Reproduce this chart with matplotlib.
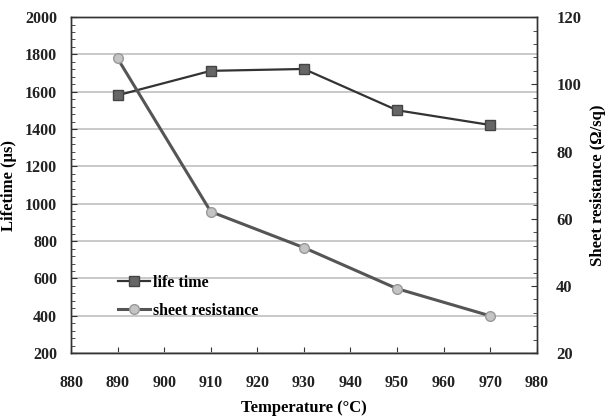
import matplotlib
matplotlib.use('Agg')
import matplotlib.pyplot as plt
from matplotlib.ticker import MultipleLocator

temps = [890, 910, 930, 950, 970]
lifetime = [1581, 1712, 1722, 1501, 1422]
sheet_res = [107.7, 62.1, 51.4, 39.2, 31.1]

plt.rcParams['font.family'] = ['Liberation Serif', 'DejaVu Serif']
plt.rcParams['font.weight'] = 'bold'

fig = plt.figure(figsize=(6.1, 4.16), dpi=100)
ax = fig.add_axes([0.1164, 0.151, 0.7636, 0.808])
ax2 = ax.twinx()

ax.set_xlim(880, 980)
ax.set_ylim(200, 2000)
ax2.set_ylim(20, 120)
ax.xaxis.set_major_locator(MultipleLocator(10))
ax.yaxis.set_major_locator(MultipleLocator(200))
ax.yaxis.set_minor_locator(MultipleLocator(40))
ax2.yaxis.set_major_locator(MultipleLocator(20))
ax2.yaxis.set_minor_locator(MultipleLocator(4))

ax.grid(axis='y', color='#c0c0c0', lw=1.2)
ax.set_axisbelow(True)

l1, = ax.plot(temps, lifetime, color='#333333', lw=1.6, marker='s', ms=7,
              mfc='#666666', mec='#444444', label='life time', zorder=3)
l2, = ax2.plot(temps, sheet_res, color='#555555', lw=2.2, marker='o', ms=7,
               mfc='#c4c4c4', mec='#999999', label='sheet resistance', zorder=3)

for a in (ax, ax2):
    for s in a.spines.values():
        s.set_color('#333333')
        s.set_linewidth(1.0)
ax.tick_params(axis='both', which='both', direction='in', labelsize=11.5, colors='#333333',
               labelcolor='#222222')
ax.tick_params(axis='y', which='major', length=4, pad=10)
ax.tick_params(axis='y', which='minor', length=3)
ax.tick_params(axis='x', length=4, pad=16)
ax2.tick_params(axis='y', which='both', direction='in', labelsize=12, colors='#333333',
                labelcolor='#222222', pad=14)
ax2.tick_params(axis='y', which='major', length=4)
ax2.tick_params(axis='y', which='minor', length=3)

for lab in ax.get_xticklabels() + ax.get_yticklabels() + ax2.get_yticklabels():
    lab.set_fontweight('bold')

ax.set_xlabel('Temperature (°C)', fontsize=12, fontweight='bold', labelpad=6)
ax.set_ylabel('Lifetime (μs)', fontsize=12, fontweight='bold', labelpad=6)
ax2.set_ylabel('Sheet resistance (Ω/sq)', fontsize=12, fontweight='bold', labelpad=6)

ax.legend([l1, l2], ['life time', 'sheet resistance'], loc='lower left',
          bbox_to_anchor=(0.07, 0.06), frameon=False,
          handlelength=2.0, handletextpad=0.2, labelspacing=0.75,
          prop={'weight': 'bold', 'size': 11.5})

fig.savefig('out.png', dpi=100)
